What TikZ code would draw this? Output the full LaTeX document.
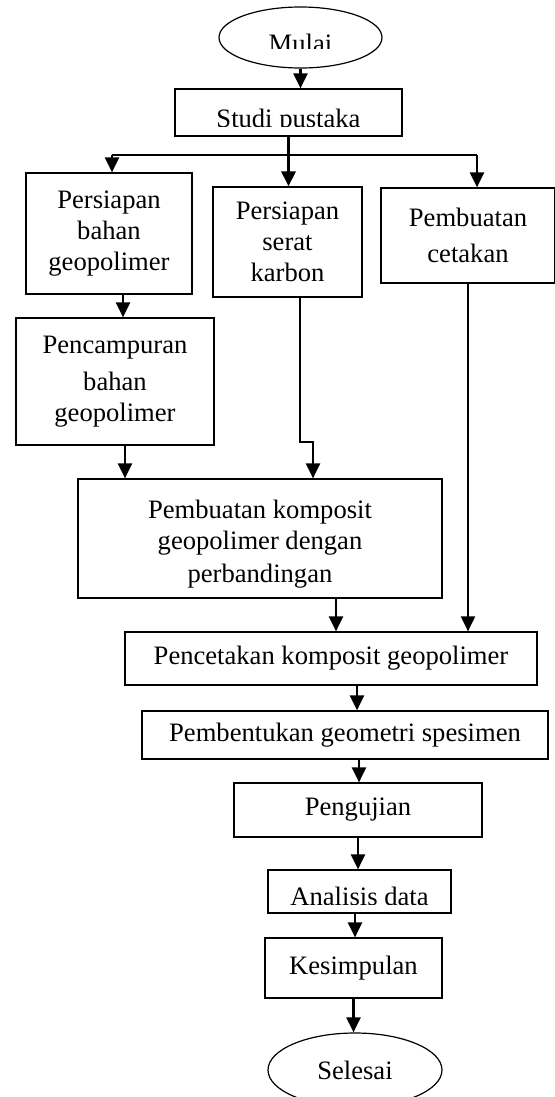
\documentclass[tikz,border=0pt]{standalone}
\usepackage{fontspec}
\setmainfont{Liberation Serif}
\usetikzlibrary{arrows.meta,calc,shapes.geometric}
\begin{document}
\begin{tikzpicture}[x=1pt,y=-1pt,
  box/.style={draw,line width=1.2pt,rectangle,align=center,inner sep=0pt,font=\fontsize{26.6}{31}\selectfont},
  term/.style={draw,line width=1.2pt,ellipse,inner sep=0pt,font=\fontsize{26.6}{31}\selectfont},
  lbl/.style={inner sep=0pt,anchor=base,font=\fontsize{26.6}{31}\selectfont},
  arr/.style={line width=2.5pt,-{Triangle[width=14pt,length=15pt]}},
  thinline/.style={line width=1.5pt}]
\useasboundingbox (0,0) rectangle (554,1097);
% nodes
\node[term,minimum width=163pt,minimum height=61pt] (mulai) at (300.5,37.5) {};
\node[lbl] (mulaitxt) at (300.5,52.6) {Mulai};
\node[box,minimum width=227pt,minimum height=47pt] (studi) at (288.5,112.5) {};
\node[lbl] (studitxt) at (288.5,127.8) {Studi pustaka};
\node[box,minimum width=166pt,minimum height=121pt] (b1) at (109,233.5) {Persiapan\\bahan\\geopolimer};
\node[box,minimum width=149pt,minimum height=110pt] (b2) at (287.5,242) {Persiapan\\serat\\karbon};
\node[box,minimum width=174pt,minimum height=95pt,font=\fontsize{26.6}{36}\selectfont] (b3) at (468,235.5) {Pembuatan\\cetakan};
\node[box,minimum width=198pt,minimum height=127pt] (b4) at (115,381.5) {Pencampuran\\[6pt]bahan\\geopolimer};
\node[box,minimum width=364pt,minimum height=119pt] (b5) at (260,538.5) {};
\node[align=center,inner sep=0pt,font=\fontsize{26.6}{31}\selectfont] (b5txt) at (260,544) {Pembuatan komposit\\geopolimer dengan\\[2pt]perbandingan};
\node[box,minimum width=412pt,minimum height=53pt] (b6) at (331,658.5) {Pencetakan komposit geopolimer};
\node[box,minimum width=406pt,minimum height=48pt] (b7) at (345,735) {Pembentukan geometri spesimen};
\node[box,minimum width=248pt,minimum height=54pt] (b8) at (358,810) {Pengujian};
\node[box,minimum width=183pt,minimum height=43pt] (b9) at (359.5,891.5) {};
\node[lbl] (b9txt) at (359.5,905.8) {Analisis data};
\node[box,minimum width=177pt,minimum height=60pt] (b10) at (353.5,968) {Kesimpulan};
\node[term,minimum width=174pt,minimum height=74pt] (sel) at (355,1070) {Selesai};
% clipped text bottoms
\fill[white] (250,49.2) rectangle (350,60);
\fill[white] (200,126.8) rectangle (378,134.6);
\fill[white] (280,905) rectangle (440,912);
% connectors
\draw[arr] (mulai.south) -- (mulai.south |- studi.north);
\draw[arr,line width=3pt] (studi.south) -- (studi.south |- b2.north);
\coordinate (sl) at (112,155);
\coordinate (sr) at (477,155);
\draw[thinline] (sl) -- (sr);
\draw[arr] (sl) -- (sl |- b1.north);
\draw[arr] (sr) -- (sr |- b3.north);
\coordinate (a1) at ($(b1.south)+(14,0)$);
\draw[arr] (a1) -- (a1 |- b4.north);
\coordinate (a4) at ($(b4.south)+(10,0)$);
\draw[arr] (a4) -- (a4 |- b5.north);
\coordinate (a2) at ($(b2.south)+(12.5,0)$);
\coordinate (k) at (313,442);
\draw[arr] (a2) |- (k) -- (k |- b5.north);
\draw[arr,line width=2pt] (b3.south) -- (b3.south |- b6.north);
\coordinate (a5) at ($(b5.south)+(76,0)$);
\draw[arr] (a5) -- (a5 |- b6.north);
\coordinate (a6) at ($(b6.south)+(26,0)$);
\draw[arr] (a6) -- (a6 |- b7.north);
\coordinate (a7) at ($(b7.south)+(14,0)$);
\draw[arr] (a7) -- (a7 |- b8.north);
\draw[arr] (b8.south) -- (b8.south |- b9.north);
\coordinate (a9) at ($(b9.south)+(-4.5,0)$);
\draw[arr] (a9) -- (a9 |- b10.north);
\draw[arr] (b10.south) -- (b10.south |- sel.north);
\end{tikzpicture}
\end{document}
